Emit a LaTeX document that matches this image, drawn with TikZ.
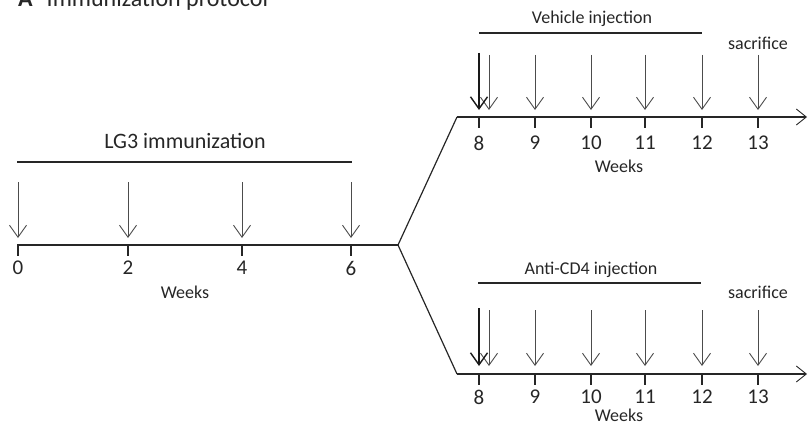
\documentclass[tikz,border=0pt]{standalone}
\usepackage{fontspec}
\setmainfont{Carlito}
\usetikzlibrary{arrows.meta}
\begin{document}
\begin{tikzpicture}[x=1pt,y=-1pt,
  axis/.style={line width=1.2pt, black!85},
  seg/.style={line width=2.2pt, black!70},
  tickmark/.style={line width=1.1pt, black!85},
  inj/.style={line width=0.9pt, black!70, -{Straight Barb[length=12pt,width=17pt,line width=0.9pt]}},
  injdark/.style={line width=1.4pt, black!90, -{Straight Barb[length=12pt,width=17pt,line width=1.4pt]}},
  lbl/.style={font=\fontsize{18}{20}\selectfont, inner sep=0pt, text=black!85},
  num/.style={font=\fontsize{21}{23}\selectfont, inner sep=0pt, text=black!85},
  big/.style={font=\fontsize{22}{24}\selectfont, inner sep=0pt, text=black!85},
  bar/.style={line width=1.6pt, black!85},
  endarrow/.style={-{Straight Barb[length=10pt,width=16pt,line width=0.9pt]}}]
\useasboundingbox (0,0) rectangle (808,428);

% title
\node[anchor=base west, font=\fontsize{24}{26}\selectfont, inner sep=0pt, text=black!85] (title) at (18,7) {\textbf{A}\hspace{14pt}Immunization protocol};

% ---------- immunization phase ----------
\coordinate (s0) at (17,245);
\coordinate (j) at (398,245);
\foreach \lo/\hi in {18/33, 112/143, 226/258, 335/367, 390/398} {
  \draw[seg] (\lo,245) -- (\hi,245);
}
\draw[axis] (s0) -- (j);
\foreach \x/\n in {18/0, 128/2, 242/4, 351/6} {
  \coordinate (ta\n) at (\x,245);
  \coordinate (tb\n) at (\x,256);
  \coordinate (aa\n) at (\x,182);
  \coordinate (ab\n) at (\x,238);
  \draw[tickmark] (ta\n) -- (tb\n);
  \draw[inj] (aa\n) -- (ab\n);
  \node[num] (n\n) at (\x,268) {\n};
}
\node[lbl] (weeksA) at (185,292) {Weeks};
\node[big] (lg3) at (185,141) {LG3 immunization};
\coordinate (lgL) at (17,162);
\coordinate (lgR) at (352,162);
\draw[bar] (lgL) -- (lgR);

% ---------- branches ----------
\coordinate (ua) at (457,117);
\coordinate (ue) at (807,117);
\coordinate (la) at (457,374);
\coordinate (le) at (807,374);

\foreach \Y in {117, 374} {
  \foreach \lo/\hi in {472/505, 518/550, 575/607, 629/662, 687/718, 743/775}
    \draw[seg] (\lo,\Y) -- (\hi,\Y);
}
\draw[axis] (j) -- (ua);
\draw[axis] (j) -- (la);
\draw[axis, endarrow] (ua) -- (ue);
\draw[axis, endarrow] (la) -- (le);

% upper timeline
\foreach \x/\n in {479/8, 535/9, 591/10, 645/11, 702/12, 758/13} {
  \coordinate (uta\n) at (\x,117);
  \coordinate (utb\n) at (\x,128);
  \draw[tickmark] (uta\n) -- (utb\n);
  \node[num] (un\n) at (\x,143) {\n};
}
\foreach \x/\n in {489/8b, 535/9, 591/10, 645/11, 702/12, 758/13} {
  \coordinate (uaa\n) at (\x,55);
  \coordinate (uab\n) at (\x,110);
  \draw[inj] (uaa\n) -- (uab\n);
}
\coordinate (uaa8) at (479,53);
\coordinate (uab8) at (479,110);
\draw[injdark] (uaa8) -- (uab8);
\node[lbl] (weeksU) at (619,166) {Weeks};
\node[lbl] (veh) at (592,19) {Vehicle injection};
\coordinate (vL) at (479,33);
\coordinate (vR) at (702,33);
\draw[bar] (vL) -- (vR);
\node[lbl] (sacU) at (758,43) {sacrifice};

% lower timeline
\foreach \x/\n in {479/8, 535/9, 591/10, 645/11, 702/12, 758/13} {
  \coordinate (lta\n) at (\x,374);
  \coordinate (ltb\n) at (\x,385);
  \draw[tickmark] (lta\n) -- (ltb\n);
  \node[num] (ln\n) at (\x,397) {\n};
}
\foreach \x/\n in {489/8b, 535/9, 591/10, 645/11, 702/12, 758/13} {
  \coordinate (laa\n) at (\x,310);
  \coordinate (lab\n) at (\x,366);
  \draw[inj] (laa\n) -- (lab\n);
}
\coordinate (laa8) at (479,308);
\coordinate (lab8) at (479,366);
\draw[injdark] (laa8) -- (lab8);
\node[lbl] (weeksL) at (619,415) {Weeks};
\node[lbl] (antic) at (591,270) {Anti-CD4 injection};
\coordinate (cL) at (478,283);
\coordinate (cR) at (701,283);
\draw[bar] (cL) -- (cR);
\node[lbl] (sacL) at (758,292) {sacrifice};
\end{tikzpicture}
\end{document}
